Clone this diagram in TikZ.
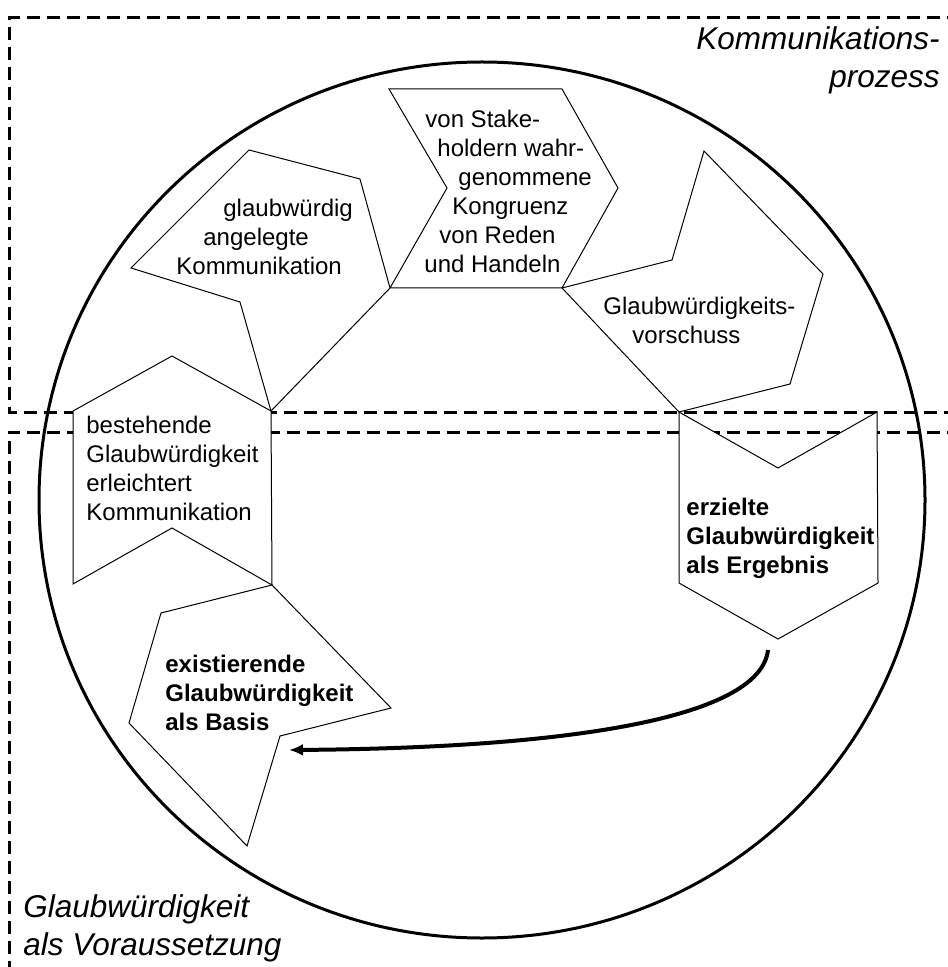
\documentclass[tikz,border=0pt]{standalone}
\usepackage{fontspec}
\setmainfont{Liberation Sans}
\usetikzlibrary{arrows.meta}
\begin{document}
\begin{tikzpicture}[x=0.5pt,y=-0.5pt,
  frame/.style={line width=1.5pt, dash pattern=on 6.5pt off 3.5pt},
  ring/.style={line width=1.5pt},
  chev/.style={draw, fill=white, line width=0.5pt, line join=miter},
  lbl/.style={inner sep=0pt, anchor=base west, align=left, font=\fontsize{12pt}{14.5pt}\selectfont},
  blbl/.style={lbl, font=\fontsize{12pt}{14.5pt}\selectfont\bfseries},
  ttl/.style={inner sep=0pt, font=\fontsize{15.75pt}{19pt}\selectfont\itshape},
  flow/.style={line width=2pt, -{Latex[length=7pt,width=6pt]}}
]
\useasboundingbox (0,0) rectangle (947,967);

% dashed frames
\draw[frame] (980,18) -- (9,18) -- (9,412) -- (980,412);
\draw[frame] (980,432) -- (9,432) -- (9,990);

% circle
\draw[ring] (482,500) ellipse [x radius=443, y radius=438];

% shared corners
\coordinate (j12) at (390,288);
\coordinate (j13) at (562,288);
\coordinate (j25) at (271,411);
\coordinate (j34) at (679,412);
\coordinate (j56) at (272,585);

% chevrons
\draw[chev] (389,89) -- (562,89) -- (618,188) -- (j13) -- (j12) -- (447,188) -- cycle;
\draw[chev] (249,150) -- (360,179) -- (j12) -- (j25) -- (240,302) -- (131,268) -- cycle;
\draw[chev] (704,151) -- (823,274) -- (790,384) -- (j34) -- (j13) -- (672,260) -- cycle;
\draw[chev] (j34) -- (778,468) -- (877,412) -- (878,583) -- (778,639) -- (679,583) -- cycle;
\draw[chev] (73,411) -- (172,356) -- (j25) -- (j56) -- (172,528) -- (73,584) -- cycle;
\draw[chev] (j56) -- (161,613) -- (129,723) -- (247,846) -- (280,736) -- (391,708) -- cycle;

% texts (anchor = baseline of the last line)
\node[lbl] (t1) at (424,273) {\hspace*{0.5pt}von Stake-\\\hspace*{6.5pt}holdern wahr-\\\hspace*{17pt}genommene\\\hspace*{14pt}Kongruenz\\\hspace*{7.5pt}von Reden\\und Handeln};
\node[lbl] (t2) at (176,275) {\hspace*{23.5pt}glaubwürdig\\\hspace*{13.5pt}angelegte\\Kommunikation};
\node[lbl] (t3) at (603,344) {Glaubwürdigkeits-\\\hspace*{14.5pt}vorschuss};
\node[blbl] (t4) at (686,573) {erzielte\\Glaubwürdigkeit\\als Ergebnis};
\node[lbl] (t5) at (86,520) {bestehende\\Glaubwürdigkeit\\erleichtert\\Kommunikation};
\node[blbl] (t6) at (165,730) {existierende\\Glaubwürdigkeit\\als Basis};

\node[ttl, anchor=base east, align=right] (k) at (940,88) {Kommunikations-\\prozess};
\node[ttl, anchor=base west, align=left] (g) at (23,955) {Glaubwürdigkeit\\als Voraussetzung};

% arrow
\coordinate (astart) at (768,650);
\coordinate (aend) at (289,750);
\draw[flow] (astart) .. controls (760,720) and (560,748) .. (aend);
\end{tikzpicture}
\end{document}
